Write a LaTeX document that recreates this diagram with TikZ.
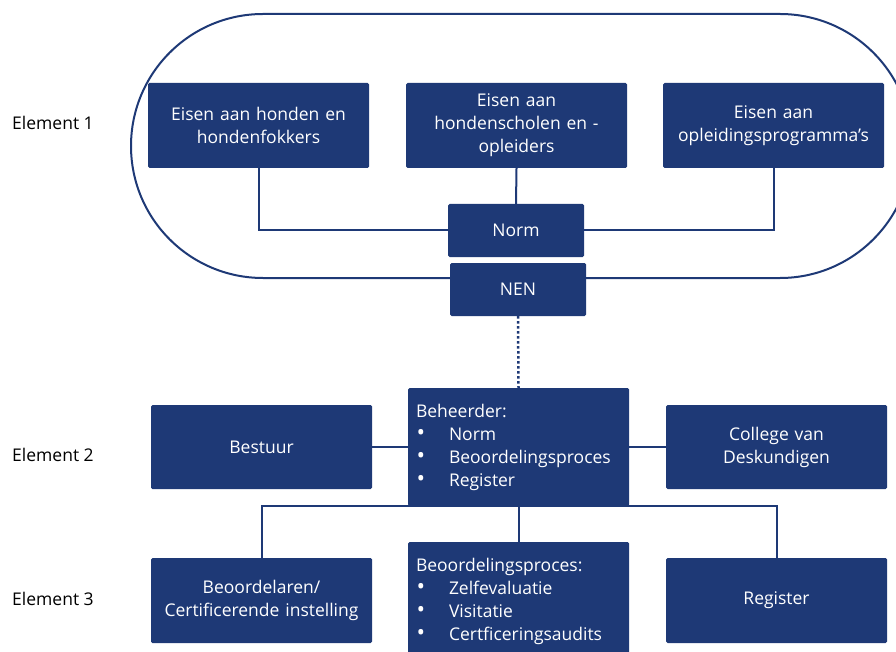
\documentclass[tikz,border=0pt]{standalone}
\usepackage{fontspec}
\setmainfont{Open Sans}
\definecolor{navy}{RGB}{30,57,118}
\tikzset{
  box/.style={fill=navy,draw=none,rounded corners=1.5pt,text=white,
    minimum width=221pt,minimum height=85pt,text width=207pt,
    inner xsep=7pt,inner ysep=0pt,align=center,
    font=\fontsize{17.5}{23}\selectfont},
  listbox/.style={box,minimum height=118pt,align=left,text width=205pt,inner xsep=8pt},
  smallbox/.style={box,minimum width=136pt,minimum height=53pt,text width=122pt},
  link/.style={draw=navy,line width=2pt},
  label/.style={anchor=west,inner sep=0pt,font=\fontsize{17.5}{23}\selectfont}
}
\newcommand{\punt}{\makebox[33pt][l]{\hspace{0.5pt}\raisebox{-0.5pt}{\scalebox{1.3}{\textbullet}}}}
\begin{document}
\begin{tikzpicture}[x=1pt,y=-1pt]
\useasboundingbox (0,0) rectangle (896,652);
\clip (0,0) rectangle (896,652);
%Element 1
	\draw[draw=navy,line width=2pt,rounded corners=132pt] (131,14) rectangle (912,278);
	\node[box] (eisA) at (258.5,125.5) {Eisen aan honden en\\hondenfokkers};
	\node[box] (eisB) at (516.5,125.5) {Eisen aan\\hondenscholen en -\\opleiders};
	\node[box] (eisC) at (773.5,125.5) {Eisen aan\\opleidingsprogramma’s};
	\node[smallbox] (norm) at (516,230.5) {Norm};
	\node[smallbox] (nen) at (518,289.5) {NEN};
	\draw[link] (eisA.south) |- (norm.west);
	\draw[link] (eisB.south) -- (norm.north);
	\draw[link] (eisC.south) |- (norm.east);
%Element 2
	\node[listbox] (beheerder) at (518.5,447) {Beheerder:\\
	  \punt Norm\\\punt Beoordelingsproces\\\punt Register};
	\node[box,minimum height=84pt] (bestuur) at (261.5,447) {Bestuur};
	\node[box,minimum height=84pt] (college) at (776.5,447) {College van\\Deskundigen};
	\draw[link,line width=2.5pt,dash pattern=on 2.5pt off 2.5pt] (nen.south) -- (beheerder.north);
	\draw[link] (bestuur.east) -- (beheerder.west);
	\draw[link] (college.west) -- (beheerder.east);
%Element 3
	\node[box,minimum height=85pt] (beoordelaren) at (261.5,600.5) {Beoordelaren/\\Certificerende instelling};
	\node[listbox] (proces) at (518.5,601) {Beoordelingsproces:\\
	  \punt Zelfevaluatie\\\punt Visitatie\\\punt Certficeringsaudits};
	\node[box,minimum height=85pt] (register) at (776.5,600.5) {Register};
	\draw[link] (beoordelaren.north) |- (beheerder.south) -| (register.north);
	\draw[link] (beheerder.south) -- (proces.north);
%Beschriftung
	\node[label] (el1) at (12,123) {Element 1};
	\node[label] (el2) at (12,455) {Element 2};
	\node[label] (el3) at (12,599) {Element 3};
\end{tikzpicture}
\end{document}
